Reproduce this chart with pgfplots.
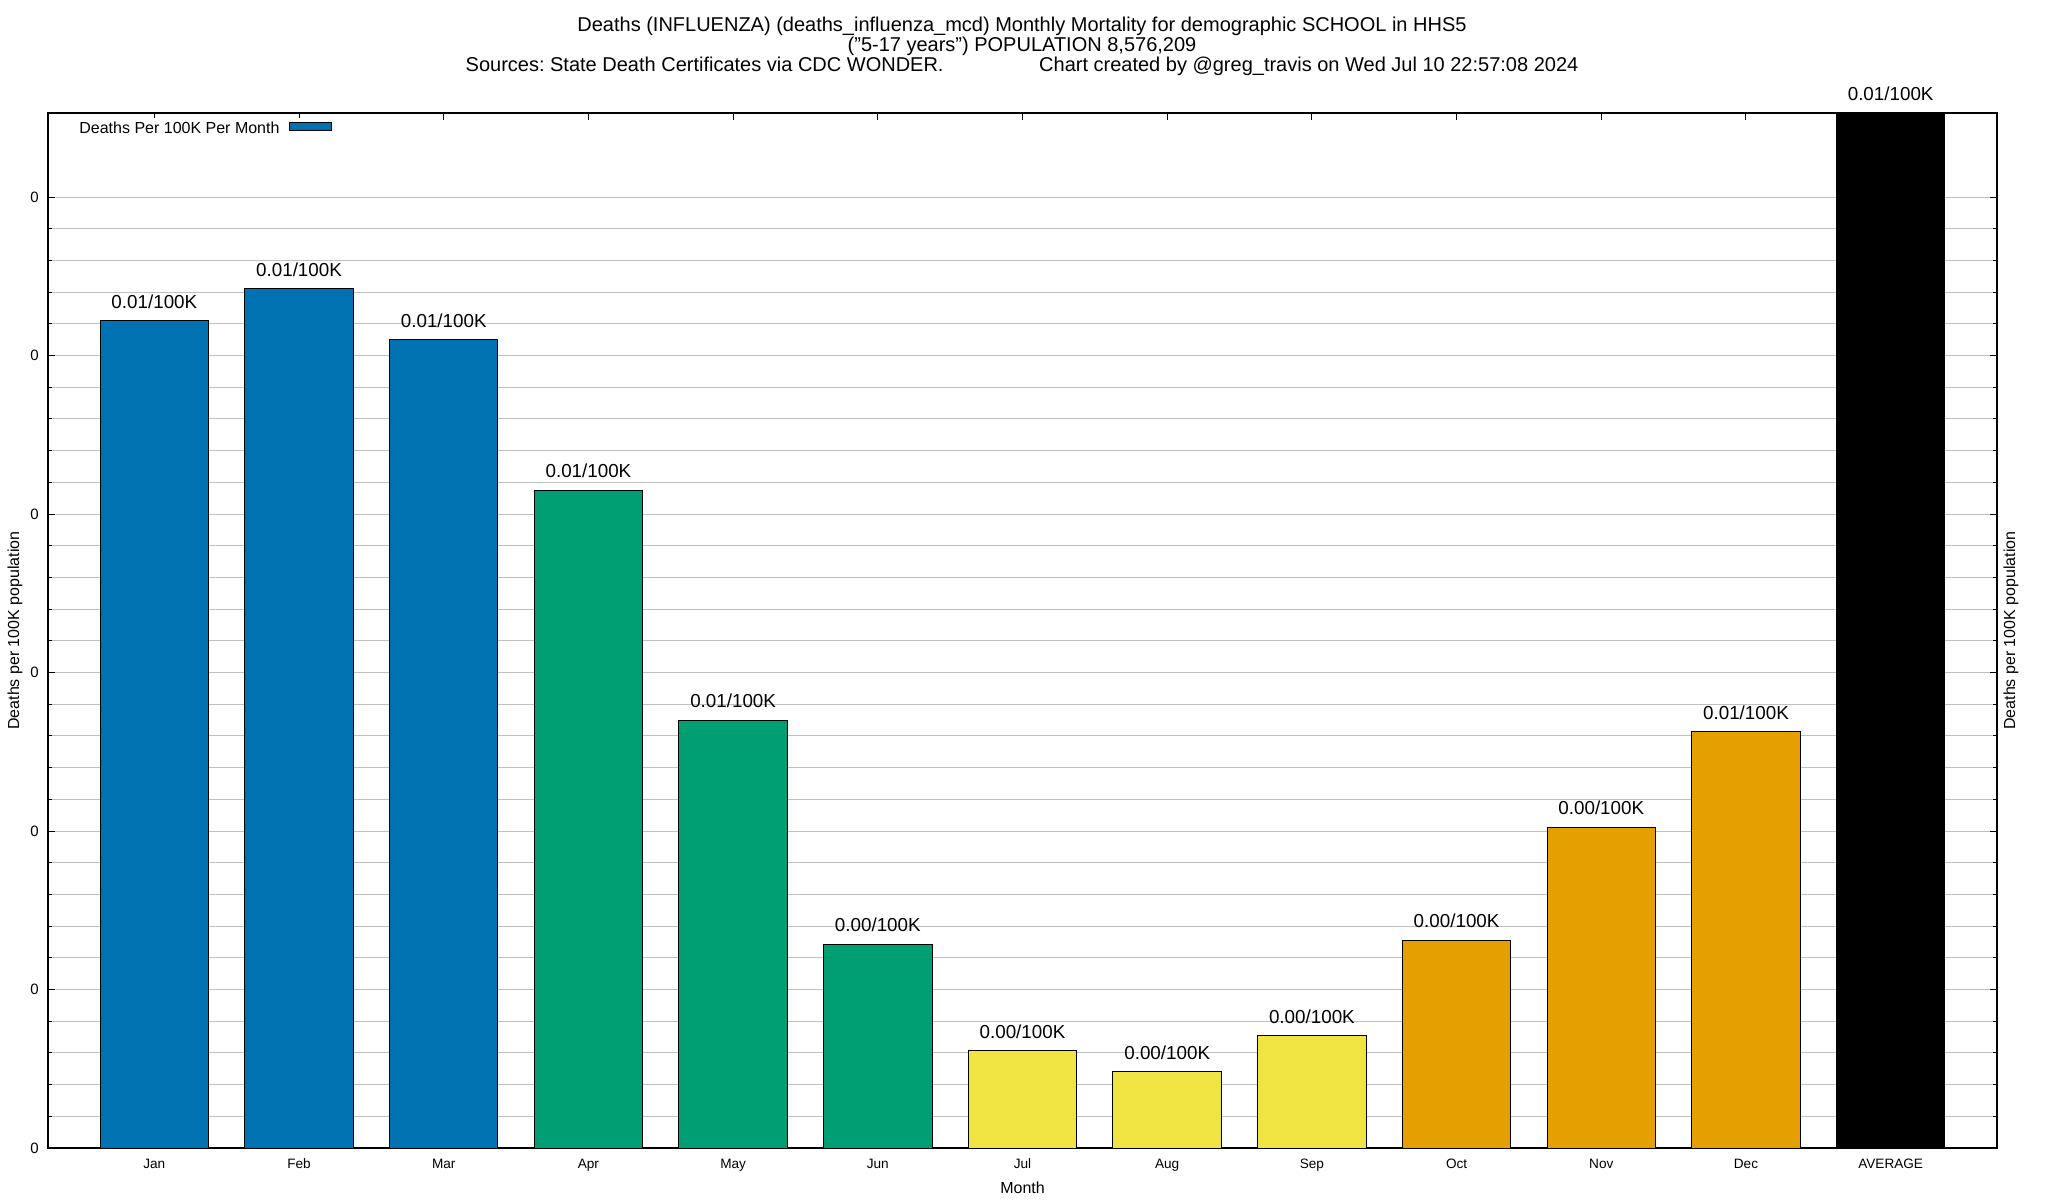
\documentclass[border=0pt]{standalone}
\usepackage{fontspec}
\setmainfont{Liberation Sans}
\usepackage{pgfplots}
\pgfplotsset{compat=1.18}
\usepackage{pgfplotstable}
\frenchspacing

\definecolor{gpblue}{HTML}{0072B2}
\definecolor{gpgreen}{HTML}{009E73}
\definecolor{gpyellow}{HTML}{F0E442}
\definecolor{gporange}{HTML}{E69F00}
\definecolor{gridgray}{HTML}{C0C0C0}

\pgfplotstableread{
x y lab
0 0.01044 0.01/100K
1 0.01084 0.01/100K
2 0.01020 0.01/100K
}\winter
\pgfplotstableread{
x y lab
3 0.00830 0.01/100K
4 0.00540 0.01/100K
5 0.00257 0.00/100K
}\spring
\pgfplotstableread{
x y lab
6 0.00123 0.00/100K
7 0.00096 0.00/100K
8 0.00142 0.00/100K
}\summer
\pgfplotstableread{
x y lab
9 0.00262 0.00/100K
10 0.00405 0.00/100K
11 0.00525 0.01/100K
}\autumn
\pgfplotstableread{
x y lab
12 0.01306 0.01/100K
}\average

\begin{document}
\begin{tikzpicture}
\useasboundingbox (-24pt,-26pt) rectangle (1000pt,574pt);
\begin{axis}[
  scale only axis,
  width=974.5pt, height=517.5pt,
  at={(0pt,0pt)}, anchor=south west,
  xmin=-0.735, xmax=12.735,
  ymin=0, ymax=0.01306,
  xtick={0,1,2,3,4,5,6,7,8,9,10,11,12},
  xticklabels={Jan,Feb,Mar,Apr,May,Jun,Jul,Aug,Sep,Oct,Nov,Dec,AVERAGE},
  ytick={0,0.002,0.004,0.006,0.008,0.010,0.012},
  yticklabels={0,0,0,0,0,0,0},
  minor y tick num=4,
  ymajorgrids, yminorgrids,
  major grid style={gridgray, line width=0.5pt},
  minor grid style={gridgray, line width=0.5pt},
  tick align=inside,
  major tick length=3.5pt, minor tick length=2pt,
  tick style={black, line width=0.5pt},
  axis line style={black, line width=0.6pt},
  scaled y ticks=false,
  clip=false,
  xticklabel style={font=\fontsize{6.8}{7}\selectfont, anchor=base, inner sep=0pt, yshift=-10.4pt},
  yticklabel style={font=\fontsize{7.5}{8}\selectfont, anchor=east, inner sep=0pt, xshift=-4.5pt},
  xlabel={Month},
  xlabel style={font=\fontsize{8}{9}\selectfont, at={(rel axis cs:0.5,0)}, anchor=base, inner sep=0pt, yshift=-22.8pt},
  legend plot pos=right,
  legend style={draw=none, fill=white, at={(rel axis cs:0,1)}, anchor=north west,
    xshift=4.5pt, yshift=-2.5pt, inner xsep=4.5pt, inner ysep=1.8pt,
    nodes={inner sep=0pt}, column sep=0pt,
    font=\fontsize{8}{9}\selectfont},
  point meta=explicit symbolic,
  nodes near coords,
  every node near coord/.append style={font=\fontsize{9.4}{11}\selectfont, anchor=base, inner sep=0pt, yshift=6.2pt, black},
]
\addplot[ybar, bar width=0.75, bar shift=0pt, fill=gpblue, draw=black, line width=0.5pt,
  legend image code/.code={\path (0pt,0pt) (26pt,0pt);
    \draw[fill=gpblue, draw=black, line width=0.5pt] (4.5pt,-0.6pt) rectangle (25.5pt,3.4pt);}]
  table[x=x, y=y, meta=lab] {\winter};
\addlegendentry{\hspace*{6.5pt}Deaths Per 100K Per Month}
\addplot[ybar, bar width=0.75, bar shift=0pt, fill=gpgreen, draw=black, line width=0.5pt, forget plot]
  table[x=x, y=y, meta=lab] {\spring};
\addplot[ybar, bar width=0.75, bar shift=0pt, fill=gpyellow, draw=black, line width=0.5pt, forget plot]
  table[x=x, y=y, meta=lab] {\summer};
\addplot[ybar, bar width=0.75, bar shift=0pt, fill=gporange, draw=black, line width=0.5pt, forget plot]
  table[x=x, y=y, meta=lab] {\autumn};
\addplot[ybar, bar width=0.75, bar shift=0pt, fill=black, draw=black, line width=0.5pt, forget plot]
  table[x=x, y=y, meta=lab] {\average};
\node[font=\fontsize{8}{9}\selectfont, anchor=center, inner sep=0pt] at ([xshift=-16.5pt]rel axis cs:0,0.5) [rotate=90] {Deaths per 100K population};
\node[font=\fontsize{8}{9}\selectfont, anchor=center, inner sep=0pt] at ([xshift=7pt]rel axis cs:1,0.5) [rotate=90] {Deaths per 100K population};
\end{axis}
\begin{scope}[every node/.style={font=\fontsize{10}{11}\selectfont, anchor=base, inner sep=0pt}]
\node at (487pt,558pt) {Deaths (INFLUENZA) (deaths\_influenza\_mcd) Monthly Mortality for demographic SCHOOL in HHS5};
\node at (487pt,548pt) {("5-17 years") POPULATION 8,576,209};
\node at (487pt,538pt) {Sources: State Death Certificates via CDC WONDER.\hspace{47.8pt}Chart created by @greg\_travis on Wed Jul 10 22:57:08 2024};
\end{scope}
\end{tikzpicture}
\end{document}
